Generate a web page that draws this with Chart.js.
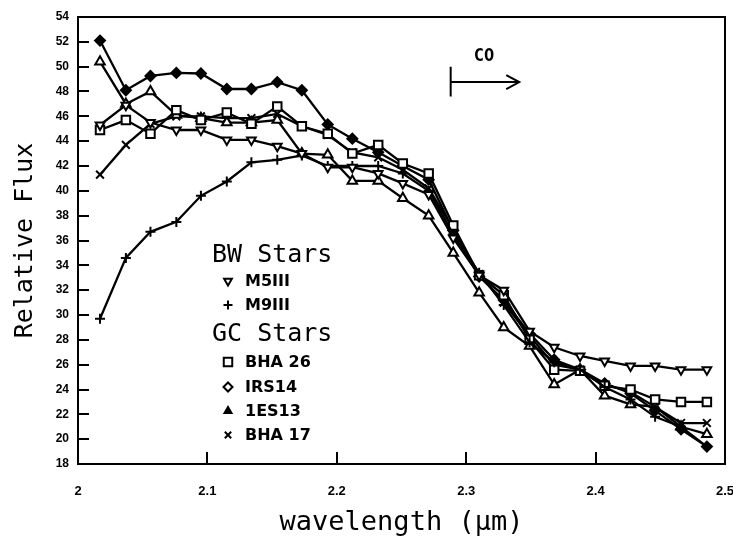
<!DOCTYPE html>
<html>
<head>
<meta charset="utf-8">
<script src="https://cdn.jsdelivr.net/npm/chart.js@4.4.1/dist/chart.umd.min.js"></script>
<style>
html,body{margin:0;padding:0;background:#fff;}
#wrap{width:733px;height:539px;}
</style>
</head>
<body>
<div id="wrap"><canvas id="c" width="733" height="539"></canvas></div>
<script>
// ---- data ----
const wavelength = [2.017, 2.037, 2.056, 2.076, 2.095, 2.115, 2.134, 2.154, 2.173, 2.193, 2.212, 2.232, 2.251, 2.271, 2.290, 2.310, 2.329, 2.349, 2.368, 2.388, 2.407, 2.427, 2.446, 2.466, 2.486];
const m5iii = [45.3, 46.9, 45.5, 44.9, 44.9, 44.1, 44.1, 43.6, 43.0, 41.9, 41.9, 41.4, 40.6, 39.7, 36.2, 33.2, 32.0, 28.7, 27.4, 26.7, 26.3, 25.9, 25.9, 25.6, 25.6];
const m9iii = [29.7, 34.6, 36.7, 37.5, 39.6, 40.75, 42.3, 42.5, 42.85, 42.0, 42.0, 42.0, 41.4, 40.0, 36.5, 33.4, 30.8, 27.8, 26.2, 25.6, 24.2, 23.2, 21.8, 21.0, 19.4];
const bha26 = [44.9, 45.7, 44.6, 46.5, 45.7, 46.3, 45.4, 46.8, 45.2, 44.6, 43.0, 43.7, 42.2, 41.4, 37.2, 33.2, 31.6, 28.0, 25.6, 25.5, 24.3, 24.0, 23.2, 23.0, 23.0];
const irs14 = [52.1, 48.1, 49.25, 49.5, 49.45, 48.2, 48.2, 48.75, 48.1, 45.35, 44.2, 43.1, 42.0, 40.9, 36.8, 33.1, 31.2, 28.5, 26.4, 25.6, 24.5, 23.7, 22.3, 20.8, 19.4];
const es13 = [50.4, 47.0, 48.0, 46.1, 45.85, 45.5, 45.5, 45.7, 43.0, 42.9, 40.8, 40.8, 39.4, 38.0, 35.0, 31.8, 29.0, 27.5, 24.4, 25.6, 23.5, 22.8, 22.6, 21.0, 20.4];
const bha17 = [41.3, 43.7, 45.4, 46.0, 46.0, 45.85, 45.85, 46.2, 45.2, 44.5, 43.1, 42.7, 41.7, 40.2, 36.9, 33.3, 31.0, 28.3, 26.0, 25.6, 24.4, 23.8, 22.6, 21.3, 21.3];

const xTickValues = [2, 2.1, 2.2, 2.3, 2.4, 2.5];
const xTickLabels = ['2', '2.1', '2.2', '2.3', '2.4', '2.5'];
const yTickValues = [18, 20, 22, 24, 26, 28, 30, 32, 34, 36, 38, 40, 42, 44, 46, 48, 50, 52, 54];
const yTickLabels = ['18', '20', '22', '24', '26', '28', '30', '32', '34', '36', '38', '40', '42', '44', '46', '48', '50', '52', '54'];

const legendGroup1 = 'BW Stars';
const legendGroup2 = 'GC Stars';
const seriesNames = ['M5III', 'M9III', 'BHA 26', 'IRS14', '1ES13', 'BHA 17'];
const coLabel = 'CO';
const coStart = 2.288, coEnd = 2.341, coLevel = 48.76, coBarLow = 47.6, coBarHigh = 50.0;

const xTitle = 'wavelength (\u00b5m)';
const yTitle = 'Relative Flux';

// ---- styles ----
const markerStyles = [
  {pointStyle: 'triangle', rotation: 180, radius: 5, fill: '#fff'},
  {pointStyle: 'cross', rotation: 0, radius: 5, fill: '#000'},
  {pointStyle: 'rect', rotation: 0, radius: 6, fill: '#fff'},
  {pointStyle: 'rectRot', rotation: 0, radius: 5, fill: '#000'},
  {pointStyle: 'triangle', rotation: 0, radius: 5.5, fill: '#fff'},
  {pointStyle: 'crossRot', rotation: 0, radius: 5.5, fill: '#000'}
];
const seriesValues = [m5iii, m9iii, bha26, irs14, es13, bha17];

const datasets = seriesValues.map((vals, k) => ({
  label: seriesNames[k],
  data: wavelength.map((w, i) => ({x: w, y: vals[i]})),
  borderColor: '#000',
  borderWidth: 2.3,
  backgroundColor: markerStyles[k].fill,
  pointStyle: markerStyles[k].pointStyle,
  pointRotation: markerStyles[k].rotation,
  pointRadius: markerStyles[k].radius,
  pointBorderWidth: 2,
  pointBorderColor: '#000',
  pointBackgroundColor: markerStyles[k].fill,
  tension: 0,
  clip: false
}));

const framePlugin = {
  id: 'frame',
  afterDatasetsDraw(chart) {
    const ctx = chart.ctx;
    const a = chart.chartArea;
    const xs = chart.scales.x, ys = chart.scales.y;
    ctx.save();
    ctx.strokeStyle = '#000';
    ctx.lineWidth = 2;
    ctx.strokeRect(a.left, a.top, a.right - a.left, a.bottom - a.top);
    ctx.beginPath();
    yTickValues.forEach(v => {
      const py = Math.round(ys.getPixelForValue(v));
      ctx.moveTo(a.left, py); ctx.lineTo(a.left + 11, py);
    });
    xTickValues.forEach(v => {
      const px = Math.round(xs.getPixelForValue(v));
      ctx.moveTo(px, a.bottom); ctx.lineTo(px, a.bottom - 12);
    });
    ctx.stroke();

    // CO annotation
    const x0 = xs.getPixelForValue(coStart), x1 = xs.getPixelForValue(coEnd);
    const yl = ys.getPixelForValue(coLevel);
    ctx.lineWidth = 2;
    ctx.beginPath();
    ctx.moveTo(x0, ys.getPixelForValue(coBarHigh)); ctx.lineTo(x0, ys.getPixelForValue(coBarLow));
    ctx.moveTo(x0, yl); ctx.lineTo(x1, yl);
    ctx.moveTo(x1 - 13, yl - 7); ctx.lineTo(x1, yl); ctx.lineTo(x1 - 13, yl + 7);
    ctx.stroke();
    ctx.fillStyle = '#000';
    ctx.font = 'bold 17px "DejaVu Sans Mono"';
    ctx.textAlign = 'center';
    ctx.textBaseline = 'middle';
    ctx.fillText(coLabel, (x0 + x1) / 2 - 1, ys.getPixelForValue(50.85));

    // legend
    const mx = 228, tx = 245;
    ctx.textAlign = 'left';
    ctx.font = '25px "DejaVu Sans Mono"';
    ctx.fillText(legendGroup1, 212, 255);
    ctx.fillText(legendGroup2, 212, 334);
    const rows = [281, 305, 362, 387, 411, 435];
    ctx.font = 'bold 16px "DejaVu Sans"';
    rows.forEach((ry, k) => {
      ctx.fillStyle = '#000';
      ctx.fillText(seriesNames[k], tx, ry + 1);
      const st = markerStyles[k];
      const legendFill = (k === 3) ? '#fff' : (k === 4 ? '#000' : st.fill);
      ctx.fillStyle = legendFill;
      ctx.strokeStyle = '#000';
      ctx.lineWidth = 2;
      const r = k === 2 ? 6 : (k === 4 ? 4 : 4.5);
      Chart.helpers.drawPoint(ctx, {pointStyle: st.pointStyle, rotation: st.rotation, radius: r, borderWidth: 2}, mx, ry);
    });
    ctx.restore();
  }
};

new Chart(document.getElementById('c'), {
  type: 'line',
  data: {datasets},
  options: {
    responsive: false,
    animation: false,
    devicePixelRatio: 1,
    layout: {padding: {top: 17, right: 7, left: 0, bottom: 0}},
    plugins: {legend: {display: false}, tooltip: {enabled: false}},
    scales: {
      x: {
        type: 'linear', min: 2, max: 2.5,
        afterBuildTicks: s => { s.ticks = xTickValues.map(v => ({value: v})); },
        afterFit: s => { s.height = 75; s.paddingLeft = 0; s.paddingRight = 0; },
        grid: {display: false, drawTicks: false},
        border: {display: false},
        ticks: {
          autoSkip: false, maxRotation: 0, padding: 20, color: '#000',
          font: {family: 'Liberation Sans', weight: 'bold', size: 13},
          callback: (v, i) => xTickLabels[i]
        },
        title: {display: true, text: xTitle, color: '#000', font: {family: 'DejaVu Sans Mono', size: 27}, padding: {top: 0, bottom: 0}}
      },
      y: {
        type: 'linear', min: 18, max: 54,
        afterBuildTicks: s => { s.ticks = yTickValues.map(v => ({value: v})); },
        afterFit: s => { s.width = 78; s.paddingTop = 0; s.paddingBottom = 0; },
        grid: {display: false, drawTicks: false},
        border: {display: false},
        ticks: {
          autoSkip: false, padding: 9, color: '#000',
          font: {family: 'Liberation Sans', weight: 'bold', size: 12},
          callback: (v, i) => yTickLabels[i]
        },
        title: {display: true, text: yTitle, color: '#000', font: {family: 'DejaVu Sans Mono', size: 25}, padding: {top: 10, bottom: 0}}
      }
    }
  },
  plugins: [framePlugin]
});
</script>
</body>
</html>
